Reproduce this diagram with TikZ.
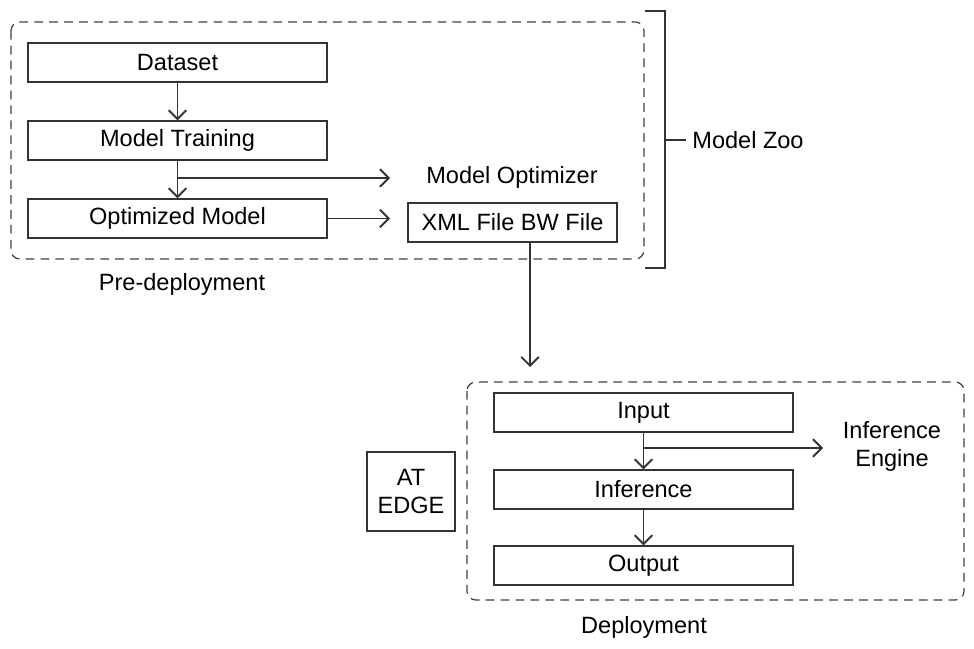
\documentclass[tikz,border=0pt]{standalone}
\usepackage{fontspec}
\setmainfont{Liberation Sans}
\usetikzlibrary{arrows.meta}
\begin{document}
\begin{tikzpicture}[x=0.02cm, y=-0.02cm,
    line width=1.1pt, draw=black!80,
    every node/.style={font=\fontsize{13.4}{16.4}\selectfont, text=black},
    stage/.style={draw=black!80, line width=0.7pt, minimum width=5.98cm, minimum height=0.78cm, inner sep=0pt},
    group/.style={draw=black!75, line width=0.7pt, dash pattern=on 5pt off 3.5pt, rounded corners=5pt},
    arr/.style={-{Straight Barb[length=5pt, width=10pt]}, line width=1.1pt, draw=black!80}]
    \useasboundingbox (0,0) rectangle (974,649);
    % Pre-deployment
    \draw[group] (11,22) rectangle (644,259);
    \node[stage] (dataset) at (177.5,62.5) {Dataset};
    \node[stage] (training) at (177.5,140.5) {Model Training};
    \node[stage] (optmodel) at (177.5,218.5) {Optimized Model};
    \node (optimizer) at (512,177) {Model Optimizer};
    \node[stage, minimum width=4.18cm] (xmlbw) at (512.5,222.5) {XML File BW File};
    \node (predeploy) at (182,284) {Pre-deployment};
    \coordinate (optin) at (390,178);
    \coordinate (xmlin) at (390,218.5);
    \draw[arr] (dataset) -- (training);
    \draw[arr] (training) -- (optmodel);
    \draw[arr] (training.south |- optin) -- (optin);
    \draw[arr] (optmodel.east) -- (xmlin);
    % Model Zoo bracket
    \coordinate (ztop) at (645,11);
    \coordinate (zbot) at (645,268);
    \coordinate (ztick) at (665,140);
    \node (zoo) at (748,140) {Model Zoo};
    \draw (ztop) -- (665,11) -- (665,268) -- (zbot);
    \draw (ztick) -- (zoo.west);
    % Deployment
    \coordinate (deployin) at (530,367);
    \draw[arr] (xmlbw.south -| deployin) -- (deployin);
    \draw[group] (467,382) rectangle (964,600);
    \node[stage] (input) at (643.5,412.5) {Input};
    \node[stage] (inference) at (643.5,489.5) {Inference};
    \node[stage] (output) at (643.5,565.5) {Output};
    \node[align=center] (engine) at (892,446.5) {Inference\\Engine};
    \node[stage, minimum width=1.76cm, minimum height=1.58cm, align=center] (edge) at (411,491.5) {AT\\EDGE};
    \node (deploy) at (644,627) {Deployment};
    \coordinate (enginein) at (823,448);
    \draw[arr] (input) -- (inference);
    \draw[arr] (input.south |- enginein) -- (enginein);
    \draw[arr] (inference) -- (output);
\end{tikzpicture}
\end{document}
